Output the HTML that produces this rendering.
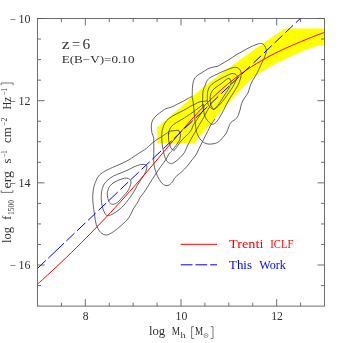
<!DOCTYPE html>
<html lang="en"><head><meta charset="utf-8"><title>log f1500 vs log Mh (z=6)</title>
<style>
html,body{margin:0;padding:0;background:#fff;}
body{width:343px;height:343px;overflow:hidden;}
svg{display:block;will-change:transform;}
text{font-family:"Liberation Serif",serif;fill:#303030;}
</style></head><body>
<svg width="343" height="343" viewBox="0 0 343 343">
<rect x="0" y="0" width="343" height="343" fill="#ffffff"/>
<polygon points="157.2,127.6 171.7,115.0 185.0,103.3 196.0,93.2 207.7,83.8 219.3,75.0 236.0,62.8 247.7,54.2 259.3,46.0 268.7,39.6 284.8,28.6 324.5,28.6 324.5,45.1 318.7,45.6 310.0,48.2 299.5,52.6 289.0,57.3 278.5,62.2 268.0,67.8 262.5,71.2 253.7,77.1 245.0,85.6 236.6,94.6 227.2,104.0 220.7,111.6 215.0,118.6 209.5,125.0 201.5,134.5 193.9,143.5 157.2,143.5" fill="#ffff00"/>
<g id="contours" fill="none" stroke="#3c3c3c" stroke-width="0.8" stroke-linejoin="round">
<path d="M109.10,187.00 C109.78,186.32 111.55,184.07 113.20,182.90 C114.85,181.73 117.08,180.78 119.00,180.00 C120.92,179.22 123.17,178.47 124.70,178.20 C126.23,177.93 127.23,178.05 128.20,178.40 C129.17,178.75 130.03,179.53 130.50,180.30 C130.97,181.07 131.10,181.97 131.00,183.00 C130.90,184.03 130.43,185.17 129.90,186.50 C129.37,187.83 129.00,189.27 127.80,191.00 C126.60,192.73 124.37,195.03 122.70,196.90 C121.03,198.77 119.38,200.97 117.80,202.20 C116.22,203.43 114.47,204.12 113.20,204.30 C111.93,204.48 111.08,204.23 110.20,203.30 C109.32,202.37 108.38,200.45 107.90,198.70 C107.42,196.95 107.10,194.75 107.30,192.80 C107.50,190.85 108.80,187.97 109.10,187.00"/>
<path d="M101.50,191.70 C101.88,190.53 102.73,186.65 103.80,184.70 C104.87,182.75 106.28,181.45 107.90,180.00 C109.52,178.55 111.48,177.12 113.50,176.00 C115.52,174.88 117.75,174.23 120.00,173.30 C122.25,172.37 124.67,171.47 127.00,170.40 C129.33,169.33 131.77,167.87 134.00,166.90 C136.23,165.93 138.55,164.98 140.40,164.60 C142.25,164.22 144.03,164.32 145.10,164.60 C146.17,164.88 146.62,165.33 146.80,166.30 C146.98,167.27 146.68,168.93 146.20,170.40 C145.72,171.87 144.77,173.55 143.90,175.10 C143.03,176.65 142.07,178.05 141.00,179.70 C139.93,181.35 138.60,183.12 137.50,185.00 C136.40,186.88 135.90,188.58 134.40,191.00 C132.90,193.42 130.23,197.15 128.50,199.50 C126.77,201.85 125.58,203.40 124.00,205.10 C122.42,206.80 120.80,208.25 119.00,209.70 C117.20,211.15 114.95,212.82 113.20,213.80 C111.45,214.78 109.77,215.50 108.50,215.60 C107.23,215.70 106.57,215.67 105.60,214.40 C104.63,213.13 103.42,210.43 102.70,208.00 C101.98,205.57 101.50,202.52 101.30,199.80 C101.10,197.08 101.47,193.05 101.50,191.70"/>
<path d="M168.70,131.90 C167.53,132.68 163.85,135.20 161.70,136.60 C159.55,138.00 157.58,139.03 155.80,140.30 C154.02,141.57 152.55,142.87 151.00,144.20 C149.45,145.53 147.97,147.13 146.50,148.30 C145.03,149.47 144.08,149.97 142.20,151.20 C140.32,152.43 137.53,154.18 135.20,155.70 C132.87,157.22 130.73,158.88 128.20,160.30 C125.67,161.72 122.60,163.02 120.00,164.20 C117.40,165.38 115.27,166.15 112.60,167.40 C109.93,168.65 106.33,170.27 104.00,171.70 C101.67,173.13 99.93,174.45 98.60,176.00 C97.27,177.55 96.78,179.17 96.00,181.00 C95.22,182.83 94.45,184.45 93.90,187.00 C93.35,189.55 92.80,193.18 92.70,196.30 C92.60,199.42 93.00,202.75 93.30,205.70 C93.60,208.65 94.02,210.87 94.50,214.00 C94.98,217.13 95.18,221.43 96.20,224.50 C97.22,227.57 98.85,230.65 100.60,232.40 C102.35,234.15 104.52,235.15 106.70,235.00 C108.88,234.85 111.23,233.13 113.70,231.50 C116.17,229.87 118.98,227.47 121.50,225.20 C124.02,222.93 126.85,220.57 128.80,217.90 C130.75,215.23 131.67,211.87 133.20,209.20 C134.73,206.53 136.87,203.82 138.00,201.90 C139.13,199.98 138.80,199.57 140.00,197.70 C141.20,195.83 143.45,193.32 145.20,190.70 C146.95,188.08 148.75,184.77 150.50,182.00 C152.25,179.23 153.95,176.73 155.70,174.10 C157.45,171.47 159.25,168.68 161.00,166.20 C162.75,163.72 164.88,161.23 166.20,159.20 C167.52,157.17 167.82,155.53 168.90,154.00 C169.98,152.47 172.07,150.67 172.70,150.00"/>
<path d="M168.7,131.3 L178.6,130.2 L180.6,134.8 L179.7,140.1 L176.2,145.3 L172.7,150.0 L170.4,147.1 L168.7,140.7 L168.4,134.8Z"/>
<path d="M192.20,96.50 C191.58,96.78 189.98,97.42 188.50,98.20 C187.02,98.98 185.13,100.22 183.30,101.20 C181.47,102.18 179.43,103.13 177.50,104.10 C175.57,105.07 173.65,106.23 171.70,107.00 C169.75,107.77 167.33,108.05 165.80,108.70 C164.27,109.35 163.97,109.85 162.50,110.90 C161.03,111.95 158.60,113.53 157.00,115.00 C155.40,116.47 153.85,117.95 152.90,119.70 C151.95,121.45 151.47,123.37 151.30,125.50 C151.13,127.63 151.52,130.37 151.90,132.50 C152.28,134.63 153.28,135.38 153.60,138.30 C153.92,141.22 153.77,145.93 153.80,150.00 C153.83,154.07 153.48,159.12 153.80,162.70 C154.12,166.28 154.80,168.72 155.70,171.50 C156.60,174.28 157.88,177.22 159.20,179.40 C160.52,181.58 162.13,183.58 163.60,184.60 C165.07,185.62 166.53,185.93 168.00,185.50 C169.47,185.07 171.23,183.32 172.40,182.00 C173.57,180.68 173.40,179.35 175.00,177.60 C176.60,175.85 179.97,173.40 182.00,171.50 C184.03,169.60 185.45,168.25 187.20,166.20 C188.95,164.15 191.05,161.07 192.50,159.20 C193.95,157.33 194.82,156.77 195.90,155.00 C196.98,153.23 197.90,150.83 199.00,148.60 C200.10,146.37 201.33,143.93 202.50,141.60 C203.67,139.27 204.90,136.78 206.00,134.60 C207.10,132.42 208.30,130.10 209.10,128.50 C209.90,126.90 209.82,126.60 210.80,125.00 C211.78,123.40 214.30,119.92 215.00,118.90"/>
<path d="M211.10,103.20 C210.95,103.65 210.78,104.73 210.20,105.90 C209.62,107.07 208.68,108.27 207.60,110.20 C206.52,112.13 205.05,115.12 203.70,117.50 C202.35,119.88 200.58,122.67 199.50,124.50 C198.42,126.33 198.02,127.10 197.20,128.50 C196.38,129.90 195.62,131.15 194.60,132.90 C193.58,134.65 192.30,136.82 191.10,139.00 C189.90,141.18 188.48,143.80 187.40,146.00 C186.32,148.20 185.80,150.28 184.60,152.20 C183.40,154.12 181.80,155.88 180.20,157.50 C178.60,159.12 176.60,160.88 175.00,161.90 C173.40,162.92 172.07,163.90 170.60,163.60 C169.13,163.30 167.37,162.00 166.20,160.10 C165.03,158.20 164.27,154.85 163.60,152.20 C162.93,149.55 162.52,147.10 162.20,144.20 C161.88,141.30 161.63,137.30 161.70,134.80 C161.77,132.30 162.10,131.12 162.60,129.20 C163.10,127.28 163.68,125.05 164.70,123.30 C165.72,121.55 167.15,120.05 168.70,118.70 C170.25,117.35 172.15,116.28 174.00,115.20 C175.85,114.12 177.85,113.18 179.80,112.20 C181.75,111.22 183.95,110.27 185.70,109.30 C187.45,108.33 188.75,107.27 190.30,106.40 C191.85,105.53 193.38,104.88 195.00,104.10 C196.62,103.32 198.55,102.15 200.00,101.70 C201.45,101.25 202.50,101.55 203.70,101.40 C204.90,101.25 206.62,100.90 207.20,100.80"/>
<path d="M203.50,104.00 C202.95,104.45 201.53,105.67 200.20,106.70 C198.87,107.73 197.07,109.03 195.50,110.20 C193.93,111.37 192.25,112.68 190.80,113.70 C189.35,114.72 188.23,115.38 186.80,116.30 C185.37,117.22 183.95,118.13 182.20,119.20 C180.45,120.27 178.05,121.53 176.30,122.70 C174.55,123.87 172.87,124.93 171.70,126.20 C170.53,127.47 169.80,128.83 169.30,130.30 C168.80,131.77 168.80,134.22 168.70,135.00"/>
<path d="M203.50,104.00 C203.53,104.83 204.25,107.20 203.70,109.00 C203.15,110.80 201.57,112.67 200.20,114.80 C198.83,116.93 196.65,120.10 195.50,121.80 C194.35,123.50 193.95,123.73 193.30,125.00 C192.65,126.27 192.40,127.95 191.60,129.40 C190.80,130.85 189.60,132.47 188.50,133.70 C187.40,134.93 186.25,135.58 185.00,136.80 C183.75,138.02 182.17,139.58 181.00,141.00 C179.83,142.42 179.00,143.88 178.00,145.30 C177.00,146.72 175.80,148.55 175.00,149.50 C174.20,150.45 173.50,150.75 173.20,151.00"/>
<path d="M192.20,96.50 C192.27,94.75 192.25,88.92 192.60,86.00 C192.95,83.08 193.43,80.80 194.30,79.00 C195.17,77.20 196.55,76.25 197.80,75.20 C199.05,74.15 200.15,73.73 201.80,72.70 C203.45,71.67 205.95,69.90 207.70,69.00 C209.45,68.10 210.65,67.75 212.30,67.30 C213.95,66.85 216.03,66.87 217.60,66.30 C219.17,65.73 220.05,64.87 221.70,63.90 C223.35,62.93 225.75,61.57 227.50,60.50 C229.25,59.43 230.78,58.42 232.20,57.50 C233.62,56.58 234.20,56.07 236.00,55.00 C237.80,53.93 240.67,52.40 243.00,51.10 C245.33,49.80 247.67,48.33 250.00,47.20 C252.33,46.07 255.05,44.92 257.00,44.30 C258.95,43.68 260.43,43.25 261.70,43.50 C262.97,43.75 263.83,44.73 264.60,45.80 C265.37,46.87 266.12,48.53 266.30,49.90 C266.48,51.27 266.18,52.35 265.70,54.00 C265.22,55.65 264.27,57.85 263.40,59.80 C262.53,61.75 261.57,63.47 260.50,65.70 C259.43,67.93 258.27,70.80 257.00,73.20 C255.73,75.60 254.07,77.90 252.90,80.10 C251.73,82.30 250.78,84.33 250.00,86.40 C249.22,88.47 249.08,90.62 248.20,92.50 C247.32,94.38 245.80,95.87 244.70,97.70 C243.60,99.53 242.38,101.43 241.60,103.50 C240.82,105.57 240.80,107.68 240.00,110.10 C239.20,112.52 238.27,115.98 236.80,118.00 C235.33,120.02 232.53,120.73 231.20,122.20 C229.87,123.67 229.58,125.05 228.80,126.80 C228.02,128.55 227.47,130.95 226.50,132.70 C225.53,134.45 224.48,135.67 223.00,137.30 C221.52,138.93 219.70,141.37 217.60,142.50 C215.50,143.63 212.33,143.93 210.40,144.10 C208.47,144.27 207.32,143.92 206.00,143.50 C204.68,143.08 203.60,142.50 202.50,141.60 C201.40,140.70 200.28,139.42 199.40,138.10 C198.52,136.78 197.78,135.30 197.20,133.70 C196.62,132.10 196.28,130.78 195.90,128.50 C195.52,126.22 195.22,123.08 194.90,120.00 C194.58,116.92 194.30,112.97 194.00,110.00 C193.70,107.03 193.40,104.45 193.10,102.20 C192.80,99.95 192.35,97.45 192.20,96.50"/>
<path d="M202.50,105.00 C202.53,103.78 202.60,100.08 202.70,97.70 C202.80,95.32 202.65,92.85 203.10,90.70 C203.55,88.55 204.70,86.55 205.40,84.80 C206.10,83.05 206.40,81.47 207.30,80.20 C208.20,78.93 209.43,78.08 210.80,77.20 C212.17,76.32 213.93,75.67 215.50,74.90 C217.07,74.13 218.45,73.38 220.20,72.60 C221.95,71.82 224.07,70.98 226.00,70.20 C227.93,69.42 230.22,68.38 231.80,67.90 C233.38,67.42 234.38,67.23 235.50,67.30 C236.62,67.37 237.67,67.77 238.50,68.30 C239.33,68.83 240.05,69.55 240.50,70.50 C240.95,71.45 241.15,72.92 241.20,74.00 C241.25,75.08 241.08,75.75 240.80,77.00 C240.52,78.25 240.08,79.93 239.50,81.50 C238.92,83.07 238.33,84.48 237.30,86.40 C236.27,88.32 234.55,91.00 233.30,93.00 C232.05,95.00 230.93,96.52 229.80,98.40 C228.67,100.28 227.55,102.32 226.50,104.30 C225.45,106.28 224.58,108.22 223.50,110.30 C222.42,112.38 221.22,114.82 220.00,116.80 C218.78,118.78 217.40,120.95 216.20,122.20 C215.00,123.45 213.80,124.10 212.80,124.30 C211.80,124.50 211.22,124.22 210.20,123.40 C209.18,122.58 207.63,120.72 206.70,119.40 C205.77,118.08 205.13,117.07 204.60,115.50 C204.07,113.93 203.85,111.75 203.50,110.00 C203.15,108.25 202.67,105.83 202.50,105.00"/>
<path d="M213.70,109.60 C213.22,109.33 211.70,108.80 210.80,108.00 C209.90,107.20 208.88,105.97 208.30,104.80 C207.72,103.63 207.47,102.00 207.30,101.00 C207.13,100.00 207.25,100.33 207.30,98.80 C207.35,97.27 207.20,93.83 207.60,91.80 C208.00,89.77 208.58,88.15 209.70,86.60 C210.82,85.05 212.55,83.77 214.30,82.50 C216.05,81.23 218.25,80.07 220.20,79.00 C222.15,77.93 224.28,76.95 226.00,76.10 C227.72,75.25 229.25,74.33 230.50,73.90 C231.75,73.47 232.58,73.40 233.50,73.50 C234.42,73.60 235.37,74.00 236.00,74.50 C236.63,75.00 237.17,75.75 237.30,76.50 C237.43,77.25 237.18,78.00 236.80,79.00 C236.42,80.00 235.67,81.20 235.00,82.50 C234.33,83.80 233.80,85.13 232.80,86.80 C231.80,88.47 230.37,90.53 229.00,92.50 C227.63,94.47 226.05,96.68 224.60,98.60 C223.15,100.52 221.57,102.55 220.30,104.00 C219.03,105.45 218.10,106.37 217.00,107.30 C215.90,108.23 214.25,109.22 213.70,109.60"/>
<path d="M213.70,109.50 C213.30,108.92 211.87,107.18 211.30,106.00 C210.73,104.82 210.48,103.98 210.30,102.40 C210.12,100.82 209.92,98.37 210.20,96.50 C210.48,94.63 211.02,92.75 212.00,91.20 C212.98,89.65 214.55,88.45 216.10,87.20 C217.65,85.95 219.82,84.82 221.30,83.70 C222.78,82.58 223.92,81.35 225.00,80.50 C226.08,79.65 226.97,78.85 227.80,78.60 C228.63,78.35 229.47,78.43 230.00,79.00 C230.53,79.57 230.97,80.92 231.00,82.00 C231.03,83.08 230.67,84.25 230.20,85.50 C229.73,86.75 229.15,87.90 228.20,89.50 C227.25,91.10 225.65,93.32 224.50,95.10 C223.35,96.88 222.25,98.72 221.30,100.20 C220.35,101.68 219.58,102.87 218.80,104.00 C218.02,105.13 217.45,106.08 216.60,107.00 C215.75,107.92 214.18,109.08 213.70,109.50"/>
</g>
<path d="M37.50,284.15 C38.31,283.42 40.74,281.26 42.36,279.80 C43.99,278.33 45.61,276.86 47.23,275.38 C48.85,273.90 50.47,272.41 52.09,270.90 C53.71,269.40 55.34,267.89 56.96,266.37 C58.58,264.85 60.20,263.31 61.82,261.77 C63.44,260.23 65.06,258.68 66.69,257.12 C68.31,255.55 69.93,253.98 71.55,252.40 C73.17,250.82 74.79,249.23 76.42,247.63 C78.04,246.02 79.66,244.42 81.28,242.80 C82.90,241.18 84.52,239.55 86.14,237.91 C87.77,236.28 89.39,234.63 91.01,232.97 C92.63,231.32 94.25,229.65 95.87,227.98 C97.49,226.31 99.12,224.62 100.74,222.93 C102.36,221.24 103.98,219.53 105.60,217.82 C107.22,216.10 108.84,214.38 110.47,212.64 C112.09,210.90 113.71,209.15 115.33,207.40 C116.95,205.64 118.57,203.87 120.19,202.08 C121.82,200.30 123.44,198.51 125.06,196.71 C126.68,194.90 128.30,193.09 129.92,191.26 C131.55,189.44 133.17,187.60 134.79,185.76 C136.41,183.91 138.03,182.06 139.65,180.19 C141.27,178.33 142.90,176.45 144.52,174.57 C146.14,172.68 147.76,170.79 149.38,168.89 C151.00,166.98 152.62,165.07 154.25,163.14 C155.87,161.22 157.49,159.28 159.11,157.34 C160.73,155.40 162.35,153.45 163.97,151.52 C165.60,149.59 167.22,147.66 168.84,145.75 C170.46,143.83 172.08,141.93 173.70,140.03 C175.32,138.13 176.95,136.24 178.57,134.36 C180.19,132.49 181.81,130.62 183.43,128.75 C185.05,126.89 186.68,125.04 188.30,123.20 C189.92,121.36 191.54,119.52 193.16,117.72 C194.78,115.93 196.40,114.16 198.03,112.42 C199.65,110.69 201.27,108.99 202.89,107.31 C204.51,105.64 206.13,104.00 207.75,102.39 C209.38,100.78 211.00,99.20 212.62,97.65 C214.24,96.10 215.86,94.58 217.48,93.10 C219.10,91.61 220.73,90.15 222.35,88.73 C223.97,87.31 225.59,85.92 227.21,84.56 C228.83,83.21 230.45,81.88 232.08,80.59 C233.70,79.30 235.32,78.04 236.94,76.82 C238.56,75.59 240.18,74.40 241.81,73.24 C243.43,72.08 245.05,70.96 246.67,69.87 C248.29,68.77 249.91,67.72 251.53,66.68 C253.16,65.65 254.78,64.64 256.40,63.65 C258.02,62.67 259.64,61.70 261.26,60.76 C262.88,59.82 264.51,58.90 266.13,58.00 C267.75,57.10 269.37,56.23 270.99,55.38 C272.61,54.53 274.23,53.70 275.86,52.89 C277.48,52.09 279.10,51.31 280.72,50.54 C282.34,49.78 283.96,49.03 285.58,48.28 C287.21,47.54 288.83,46.81 290.45,46.08 C292.07,45.36 293.69,44.65 295.31,43.94 C296.94,43.24 298.56,42.55 300.18,41.87 C301.80,41.18 303.42,40.51 305.04,39.85 C306.66,39.19 308.29,38.54 309.91,37.89 C311.53,37.25 313.15,36.62 314.77,36.00 C316.39,35.38 318.01,34.77 319.64,34.17 C321.26,33.57 323.69,32.69 324.50,32.39" fill="none" stroke="#ff0000" stroke-width="1"/>
<path d="M37.40,268.50L45.90,260.41 M48.20,258.22L64.00,243.20 M66.30,241.01L74.50,233.21 M77.10,230.74L85.40,222.85 M88.10,220.28L95.70,213.05 M98.60,210.29L106.20,203.07 M108.50,200.88L117.80,192.03 M120.40,189.56L128.20,182.14 M130.50,179.96L138.70,172.16 M141.60,169.40L149.70,161.70 M152.30,159.23L161.10,150.86 M163.40,148.67L171.60,140.87 M173.90,138.68L181.50,131.46 M184.50,128.60L192.80,120.71 M195.70,117.95L207.40,106.83 M210.20,104.16L218.20,96.55 M221.30,93.61L228.90,86.38 M231.20,84.19L239.40,76.39 M241.80,74.11L250.00,66.31 M253.50,62.98L261.10,55.76 M264.00,53.00L271.80,45.58 M274.70,42.82L282.50,35.41 M285.40,32.65L293.00,25.42 M295.90,22.66L300.20,18.57" fill="none" stroke="#0000ff" stroke-width="1"/>
<g stroke="#555555" stroke-width="0.85" fill="none">
<rect x="37.5" y="18.5" width="287.0" height="287.6"/>
<path d="M61.42,18.50v3.5 M61.42,306.10v-3.5 M85.33,18.50v7.0 M85.33,306.10v-7.0 M109.25,18.50v3.5 M109.25,306.10v-3.5 M133.17,18.50v3.5 M133.17,306.10v-3.5 M157.08,18.50v3.5 M157.08,306.10v-3.5 M181.00,18.50v7.0 M181.00,306.10v-7.0 M204.92,18.50v3.5 M204.92,306.10v-3.5 M228.83,18.50v3.5 M228.83,306.10v-3.5 M252.75,18.50v3.5 M252.75,306.10v-3.5 M276.67,18.50v7.0 M276.67,306.10v-7.0 M300.58,18.50v3.5 M300.58,306.10v-3.5 M37.50,18.50h7.0 M324.50,18.50h-7.0 M37.50,39.04h3.5 M324.50,39.04h-3.5 M37.50,59.59h3.5 M324.50,59.59h-3.5 M37.50,80.13h3.5 M324.50,80.13h-3.5 M37.50,100.67h7.0 M324.50,100.67h-7.0 M37.50,121.21h3.5 M324.50,121.21h-3.5 M37.50,141.76h3.5 M324.50,141.76h-3.5 M37.50,162.30h3.5 M324.50,162.30h-3.5 M37.50,182.84h7.0 M324.50,182.84h-7.0 M37.50,203.39h3.5 M324.50,203.39h-3.5 M37.50,223.93h3.5 M324.50,223.93h-3.5 M37.50,244.47h3.5 M324.50,244.47h-3.5 M37.50,265.01h7.0 M324.50,265.01h-7.0 M37.50,285.56h3.5 M324.50,285.56h-3.5 "/>
</g>
<line x1="180.8" y1="244.3" x2="217" y2="244.3" stroke="#ff0000" stroke-width="1"/>
<line x1="180.8" y1="264.8" x2="217" y2="264.8" stroke="#0000ff" stroke-width="1" stroke-dasharray="11.7 3"/>
<text x="229.1" y="248.4" font-size="11.8" style="fill:#ff0000" textLength="34.3" lengthAdjust="spacingAndGlyphs">Trenti</text>
<text x="270.3" y="248.4" font-size="11.8" style="fill:#ff0000" textLength="23.1" lengthAdjust="spacingAndGlyphs">ICLF</text>
<text x="229.1" y="268.9" font-size="11.8" style="fill:#0000ff" textLength="22.8" lengthAdjust="spacingAndGlyphs">This</text>
<text x="259.3" y="268.9" font-size="11.8" style="fill:#0000ff" textLength="26.5" lengthAdjust="spacingAndGlyphs">Work</text>
<text x="61.7" y="48.6" font-size="14" textLength="7.9" lengthAdjust="spacingAndGlyphs">z</text>
<text x="72" y="48.6" font-size="14" textLength="8.2" lengthAdjust="spacingAndGlyphs">=</text>
<text x="82.4" y="48.6" font-size="14" textLength="7.7" lengthAdjust="spacingAndGlyphs">6</text>
<text x="61.7" y="62.7" font-size="10.4" textLength="72.8" lengthAdjust="spacingAndGlyphs">E(B−V)=0.10</text>
<text x="10" y="22.8" font-size="11.8" textLength="5.8" lengthAdjust="spacingAndGlyphs">−</text>
<text x="18.6" y="22.8" font-size="11.8" textLength="12" lengthAdjust="spacingAndGlyphs">10</text>
<text x="10" y="105.0" font-size="11.8" textLength="5.8" lengthAdjust="spacingAndGlyphs">−</text>
<text x="18.6" y="105.0" font-size="11.8" textLength="12" lengthAdjust="spacingAndGlyphs">12</text>
<text x="10" y="187.1" font-size="11.8" textLength="5.8" lengthAdjust="spacingAndGlyphs">−</text>
<text x="18.6" y="187.1" font-size="11.8" textLength="12" lengthAdjust="spacingAndGlyphs">14</text>
<text x="10" y="269.3" font-size="11.8" textLength="5.8" lengthAdjust="spacingAndGlyphs">−</text>
<text x="18.6" y="269.3" font-size="11.8" textLength="12" lengthAdjust="spacingAndGlyphs">16</text>
<text x="82.8" y="320.3" font-size="12.1" textLength="5.8" lengthAdjust="spacingAndGlyphs">8</text>
<text x="175.5" y="320.3" font-size="12.1" textLength="11.8" lengthAdjust="spacingAndGlyphs">10</text>
<text x="271.2" y="320.3" font-size="12.1" textLength="11.8" lengthAdjust="spacingAndGlyphs">12</text>
<text x="148.9" y="335" font-size="11.8" textLength="16.2" lengthAdjust="spacingAndGlyphs">log</text>
<text x="171.7" y="335" font-size="11.8" textLength="8.3" lengthAdjust="spacingAndGlyphs">M</text>
<text x="180.6" y="338" font-size="7.5" textLength="5" lengthAdjust="spacingAndGlyphs">h</text>
<text x="194.9" y="335" font-size="11.8" textLength="8.1" lengthAdjust="spacingAndGlyphs">M</text>
<circle cx="206" cy="335.5" r="2" fill="none" stroke="#4c4c4c" stroke-width="0.55"/><circle cx="206" cy="335.5" r="0.55" fill="#4c4c4c"/>
<path d="M194,326.7H191.6V338.5H194 M210.6,326.7H213V338.5H210.6" fill="none" stroke="#4c4c4c" stroke-width="0.75"/>
<path d="M1.2,190.2V192.4H12.9V190.2 M1.1,85.2V83H13.1V85.2" fill="none" stroke="#4c4c4c" stroke-width="0.75"/>
<g transform="translate(11,0) rotate(-90)">
<text x="-243.0" y="0.0" font-size="11.8" textLength="16.1" lengthAdjust="spacingAndGlyphs">log</text>
<text x="-219.8" y="0.0" font-size="11.8" textLength="4.0" lengthAdjust="spacingAndGlyphs">f</text>
<text x="-214.9" y="3.0" font-size="7.5" textLength="15.0" lengthAdjust="spacingAndGlyphs">1500</text>
<text x="-188.5" y="0.0" font-size="11.8" textLength="17.5" lengthAdjust="spacingAndGlyphs">erg</text>
<text x="-163.4" y="0.0" font-size="11.8" textLength="4.9" lengthAdjust="spacingAndGlyphs">s</text>
<text x="-156.9" y="-4.2" font-size="7.5" textLength="6.5" lengthAdjust="spacingAndGlyphs">−1</text>
<text x="-143.0" y="0.0" font-size="11.8" textLength="15.5" lengthAdjust="spacingAndGlyphs">cm</text>
<text x="-125.9" y="-4.2" font-size="7.5" textLength="8.2" lengthAdjust="spacingAndGlyphs">−2</text>
<text x="-109.5" y="0.0" font-size="11.8" textLength="12.6" lengthAdjust="spacingAndGlyphs">Hz</text>
<text x="-95.3" y="-4.2" font-size="7.5" textLength="7.3" lengthAdjust="spacingAndGlyphs">−1</text>
</g>
</svg>
</body></html>
